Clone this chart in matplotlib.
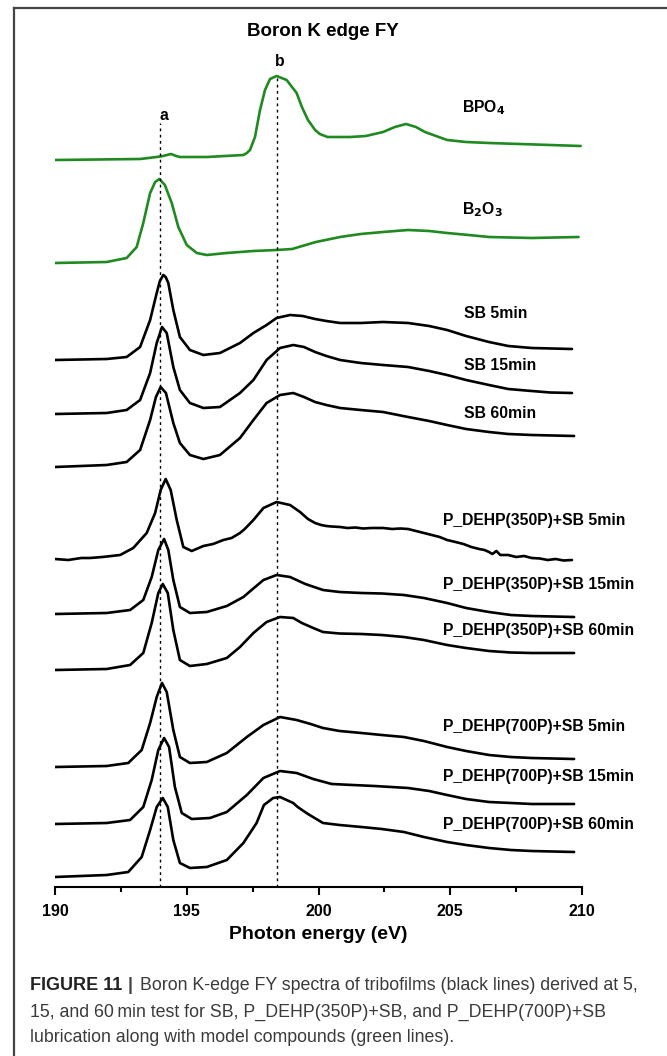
import matplotlib
matplotlib.use("Agg")
import matplotlib.pyplot as plt
from matplotlib.lines import Line2D
from matplotlib.ticker import MultipleLocator

plt.rcParams['font.family'] = ['Liberation Sans', 'DejaVu Sans']

# stacked spectra, photon energy (eV) vs. intensity (a.u., offsets included)
bpo4_x = [190.0, 193.23, 193.86, 194.1, 194.4, 194.6, 194.74, 195.76, 197.15, 197.28, 197.4,
          197.59, 197.78, 197.97, 198.16, 198.41, 198.79, 199.17, 199.37, 199.6, 199.87, 200.05,
          200.34, 201.2, 201.8, 202.45, 202.9, 203.32, 203.7, 204.04, 204.88, 205.6, 206.47,
          209.95]
bpo4_y = [7.27, 7.28, 7.30, 7.31, 7.33, 7.31, 7.30, 7.30, 7.32, 7.34, 7.37,
          7.50, 7.77, 7.97, 8.08, 8.11, 8.07, 7.94, 7.80, 7.67, 7.57, 7.53,
          7.50, 7.50, 7.51, 7.55, 7.60, 7.63, 7.60, 7.55, 7.47, 7.45, 7.44,
          7.41]

b2o3_x = [190.0, 191.96, 192.72, 193.1, 193.35, 193.61, 193.8, 193.96, 194.17, 194.43, 194.68,
          195.0, 195.38, 195.76, 196.52, 197.53, 198.41, 199.0, 199.9, 200.82, 201.6, 202.45,
          203.4, 204.2, 204.88, 205.7, 206.47, 208.09, 209.87]
b2o3_y = [6.24, 6.25, 6.29, 6.40, 6.64, 6.94, 7.05, 7.08, 7.02, 6.84, 6.60,
          6.42, 6.34, 6.32, 6.34, 6.36, 6.37, 6.38, 6.45, 6.50, 6.53, 6.55,
          6.57, 6.56, 6.54, 6.52, 6.50, 6.49, 6.50]

sb5_x = [190.0, 191.96, 192.72, 193.23, 193.61, 193.86, 193.98, 194.11, 194.2, 194.3, 194.49,
         194.74, 195.12, 195.63, 196.26, 197.02, 197.53, 198.03, 198.41, 198.92, 199.4,
         199.87, 200.3, 200.82, 201.6, 202.45, 203.4, 204.2, 204.88, 205.6, 206.47, 207.2,
         208.09, 209.62]
sb5_y = [5.27, 5.28, 5.30, 5.40, 5.67, 5.94, 6.06, 6.12, 6.10, 6.04, 5.77,
         5.50, 5.37, 5.32, 5.34, 5.44, 5.54, 5.62, 5.69, 5.72, 5.71,
         5.68, 5.66, 5.64, 5.64, 5.65, 5.64, 5.61, 5.57, 5.51, 5.45, 5.41,
         5.39, 5.38]

sb15_x = [190.0, 191.96, 192.72, 193.23, 193.61, 193.86, 194.06, 194.24, 194.49, 194.74,
          195.12, 195.63, 196.26, 197.02, 197.53, 198.03, 198.54, 199.04, 199.45, 199.87,
          200.3, 200.82, 201.6, 202.45, 203.4, 204.2, 204.88, 205.6, 206.47, 207.2, 208.09,
          208.8, 209.62]
sb15_y = [4.73, 4.74, 4.77, 4.87, 5.14, 5.44, 5.60, 5.54, 5.20, 4.97,
          4.84, 4.79, 4.80, 4.94, 5.07, 5.27, 5.39, 5.42, 5.40, 5.35,
          5.31, 5.27, 5.24, 5.22, 5.20, 5.16, 5.12, 5.07, 5.02, 4.98, 4.96,
          4.945, 4.94]

sb60_x = [190.0, 191.96, 192.72, 193.23, 193.61, 193.83, 194.01, 194.21, 194.49, 194.74,
          195.12, 195.63, 196.26, 197.02, 197.53, 198.03, 198.54, 199.04, 199.45, 199.87,
          200.3, 200.82, 201.6, 202.45, 203.4, 204.2, 204.88, 205.6, 206.47, 207.2, 208.09,
          209.7]
sb60_y = [4.20, 4.22, 4.25, 4.37, 4.67, 4.90, 5.00, 4.94, 4.64, 4.44,
          4.32, 4.28, 4.32, 4.49, 4.67, 4.84, 4.92, 4.94, 4.90, 4.85,
          4.82, 4.79, 4.77, 4.75, 4.70, 4.66, 4.62, 4.58, 4.55, 4.53, 4.52,
          4.51]

p350_5_x = [190.0, 190.5, 191.0, 191.33, 191.8, 192.47, 192.97, 193.48, 193.8, 194.01, 194.2,
            194.39, 194.62, 194.87, 195.19, 195.63, 196.0, 196.39, 196.7, 197.02, 197.2, 197.53,
            197.91, 198.41, 198.92, 199.3, 199.6, 199.87, 200.1, 200.3, 200.5, 200.82, 201.1,
            201.4, 201.7, 202.0, 202.45, 202.8, 203.1, 203.4, 203.7, 204.0, 204.3, 204.6,
            204.88, 205.2, 205.5, 205.8, 206.1, 206.3, 206.47, 206.6, 206.75, 206.9, 207.2,
            207.5, 207.8, 208.09, 208.4, 208.7, 209.0, 209.3, 209.62]
p350_5_y = [3.28, 3.27, 3.29, 3.29, 3.30, 3.32, 3.39, 3.54, 3.74, 3.97, 4.08,
            3.97, 3.67, 3.40, 3.36, 3.41, 3.43, 3.47, 3.49, 3.54, 3.58, 3.67,
            3.79, 3.85, 3.82, 3.75, 3.68, 3.64, 3.62, 3.61, 3.605, 3.60, 3.59,
            3.595, 3.585, 3.59, 3.59, 3.58, 3.585, 3.58, 3.56, 3.54, 3.52, 3.50,
            3.47, 3.45, 3.43, 3.40, 3.38, 3.37, 3.35, 3.33, 3.36, 3.32, 3.32,
            3.30, 3.31, 3.29, 3.285, 3.27, 3.28, 3.265, 3.27]

p350_15_x = [190.0, 191.96, 192.85, 193.35, 193.67, 193.92, 194.14, 194.3, 194.49, 194.74,
             195.12, 195.76, 196.52, 197.15, 197.46, 197.91, 198.41, 198.92, 199.5, 200.17,
             200.8, 201.63, 202.4, 203.24, 204.0, 204.88, 205.6, 206.47, 207.3, 208.09, 209.7]
p350_15_y = [2.73, 2.74, 2.77, 2.87, 3.10, 3.37, 3.48, 3.37, 3.07, 2.80,
             2.74, 2.75, 2.81, 2.90, 2.97, 3.07, 3.12, 3.10, 3.03, 2.97,
             2.95, 2.94, 2.935, 2.92, 2.89, 2.84, 2.79, 2.75, 2.72, 2.71, 2.70]

p350_60_x = [190.0, 191.96, 192.85, 193.35, 193.67, 193.92, 194.09, 194.28, 194.49, 194.74,
             195.12, 195.76, 196.52, 197.02, 197.53, 198.03, 198.54, 199.04, 199.37, 199.8,
             200.17, 200.8, 201.63, 202.4, 203.24, 204.0, 204.88, 205.6, 206.47, 207.3, 208.09,
             209.7]
p350_60_y = [2.17, 2.18, 2.22, 2.34, 2.64, 2.94, 3.03, 2.94, 2.57, 2.27,
             2.21, 2.23, 2.29, 2.40, 2.54, 2.65, 2.70, 2.69, 2.64, 2.59,
             2.55, 2.535, 2.53, 2.52, 2.50, 2.47, 2.42, 2.39, 2.36, 2.345, 2.34,
             2.34]

p700_5_x = [190.0, 191.96, 192.78, 193.29, 193.61, 193.86, 194.06, 194.24, 194.49, 194.74,
            195.12, 195.76, 196.52, 197.28, 197.91, 198.54, 199.17, 199.7, 200.17, 200.8,
            201.63, 202.4, 203.24, 204.0, 204.88, 205.6, 206.47, 207.3, 208.09, 209.7]
p700_5_y = [1.20, 1.21, 1.24, 1.37, 1.64, 1.90, 2.04, 1.95, 1.57, 1.30,
            1.24, 1.25, 1.34, 1.50, 1.62, 1.70, 1.67, 1.63, 1.59, 1.56,
            1.54, 1.52, 1.50, 1.46, 1.40, 1.36, 1.32, 1.30, 1.29, 1.28]

p700_15_x = [190.0, 191.96, 192.85, 193.35, 193.67, 193.92, 194.14, 194.33, 194.55, 194.81,
             195.19, 195.88, 196.52, 197.28, 197.91, 198.54, 199.17, 199.8, 200.5, 201.3,
             202.12, 203.4, 204.2, 204.88, 205.6, 206.47, 207.3, 208.09, 209.7]
p700_15_y = [0.63, 0.64, 0.67, 0.80, 1.07, 1.37, 1.49, 1.40, 1.00, 0.74,
             0.68, 0.69, 0.75, 0.92, 1.09, 1.16, 1.14, 1.08, 1.03, 1.02,
             1.01, 0.99, 0.96, 0.92, 0.88, 0.85, 0.84, 0.83, 0.83]

p700_60_x = [190.0, 191.96, 192.78, 193.29, 193.61, 193.86, 194.09, 194.28, 194.49, 194.74,
             195.12, 195.76, 196.52, 197.15, 197.65, 197.93, 198.03, 198.28, 198.54, 199.04,
             199.21, 199.6, 200.17, 200.8, 201.63, 202.4, 203.24, 204.0, 204.88, 205.6, 206.47,
             207.3, 208.09, 209.7]
p700_60_y = [0.10, 0.12, 0.15, 0.30, 0.57, 0.80, 0.89, 0.80, 0.47, 0.24,
             0.19, 0.20, 0.27, 0.44, 0.64, 0.82, 0.84, 0.89, 0.90, 0.84,
             0.80, 0.73, 0.64, 0.62, 0.60, 0.58, 0.55, 0.50, 0.45, 0.42, 0.39,
             0.37, 0.36, 0.35]

labels = ["BPO$_\\mathbf{4}$", "B$_\\mathbf{2}$O$_\\mathbf{3}$", "SB 5min", "SB 15min", "SB 60min",
          "P_DEHP(350P)+SB 5min", "P_DEHP(350P)+SB 15min", "P_DEHP(350P)+SB 60min",
          "P_DEHP(700P)+SB 5min", "P_DEHP(700P)+SB 15min", "P_DEHP(700P)+SB 60min"]
label_x = [205.43, 205.43, 205.51, 205.51, 205.51, 204.72, 204.72, 204.72, 204.72, 204.72, 204.72]
label_y = [7.79, 6.77, 5.74, 5.21, 4.74, 3.67, 3.03, 2.57, 1.61, 1.10, 0.62]

peak_a = 194.0
peak_b = 198.42

xs = [bpo4_x, b2o3_x, sb5_x, sb15_x, sb60_x, p350_5_x, p350_15_x, p350_60_x,
      p700_5_x, p700_15_x, p700_60_x]
ys = [bpo4_y, b2o3_y, sb5_y, sb15_y, sb60_y, p350_5_y, p350_15_y, p350_60_y,
      p700_5_y, p700_15_y, p700_60_y]
colors = ['#1f8a1f', '#1f8a1f'] + ['black'] * 9

fig = plt.figure(figsize=(6.67, 10.56), dpi=100)
ax = fig.add_axes([55 / 667, 1 - 887 / 1056, 527 / 667, 867 / 1056])

for x, y, c in zip(xs, ys, colors):
    ax.plot(x, y, color=c, lw=1.9, solid_joinstyle='round', solid_capstyle='round')

for lab, lx, ly in zip(labels, label_x, label_y):
    ax.text(lx, ly, lab, fontsize=11.3, fontweight='bold', va='center', ha='left',
            clip_on=False)

# peak markers
ax.plot([peak_a, peak_a], [0, 7.64], ls=(0, (2, 2.5)), color='black', lw=1)
ax.plot([peak_b, peak_b], [0, 8.10], ls=(0, (2, 2.5)), color='black', lw=1)
ax.text(peak_a + 0.14, 7.72, 'a', fontsize=11.3, fontweight='bold', ha='center', va='center')
ax.text(peak_b + 0.10, 8.25, 'b', fontsize=11.3, fontweight='bold', ha='center', va='center')

ax.set_xlim(190, 210)
ax.set_ylim(0, 8.67)
ax.xaxis.set_major_locator(MultipleLocator(5))
ax.xaxis.set_minor_locator(MultipleLocator(2.5))
for s in ['left', 'right', 'top']:
    ax.spines[s].set_visible(False)
ax.spines['bottom'].set_linewidth(1.5)
ax.set_yticks([])
ax.tick_params(axis='x', which='major', length=6, width=1.5, pad=6, labelsize=11.5)
ax.tick_params(axis='x', which='minor', length=3.5, width=1.5)
for t in ax.get_xticklabels():
    t.set_fontweight('bold')
ax.set_xlabel('Photon energy (eV)', fontsize=14, fontweight='bold', labelpad=5)

fig.text(323 / 667, 1 - 31 / 1056, 'Boron K edge FY', fontsize=13.5, fontweight='bold',
         ha='center', va='center')

# frame of the figure panel
fig.add_artist(Line2D([14 / 667, 14 / 667], [0, 1 - 8 / 1056], color='#444444', lw=1.6,
                      transform=fig.transFigure))
fig.add_artist(Line2D([14 / 667, 1], [1 - 8 / 1056, 1 - 8 / 1056], color='#444444', lw=1.6,
                      transform=fig.transFigure))

# caption
cap_col = '#3a3a3a'
y1 = 1 - 986 / 1056
fig.text(30 / 667, y1, 'FIGURE 11', fontsize=13, fontweight='bold', color='#222222',
         ha='left', va='center')
fig.text(128 / 667, y1, '|', fontsize=13, fontweight='bold', color='#444444', ha='left',
         va='center')
fig.text(140 / 667, y1, 'Boron K-edge FY spectra of tribofilms (black lines) derived at 5,',
         fontsize=12.8, color=cap_col, ha='left', va='center')
fig.text(30 / 667, 1 - 1012 / 1056,
         '15, and 60\u2009min test for SB, P_DEHP(350P)+SB, and P_DEHP(700P)+SB',
         fontsize=12.8, color=cap_col, ha='left', va='center')
fig.text(30 / 667, 1 - 1038 / 1056, 'lubrication along with model compounds (green lines).',
         fontsize=12.8, color=cap_col, ha='left', va='center')

fig.savefig('out.png', dpi=100)
